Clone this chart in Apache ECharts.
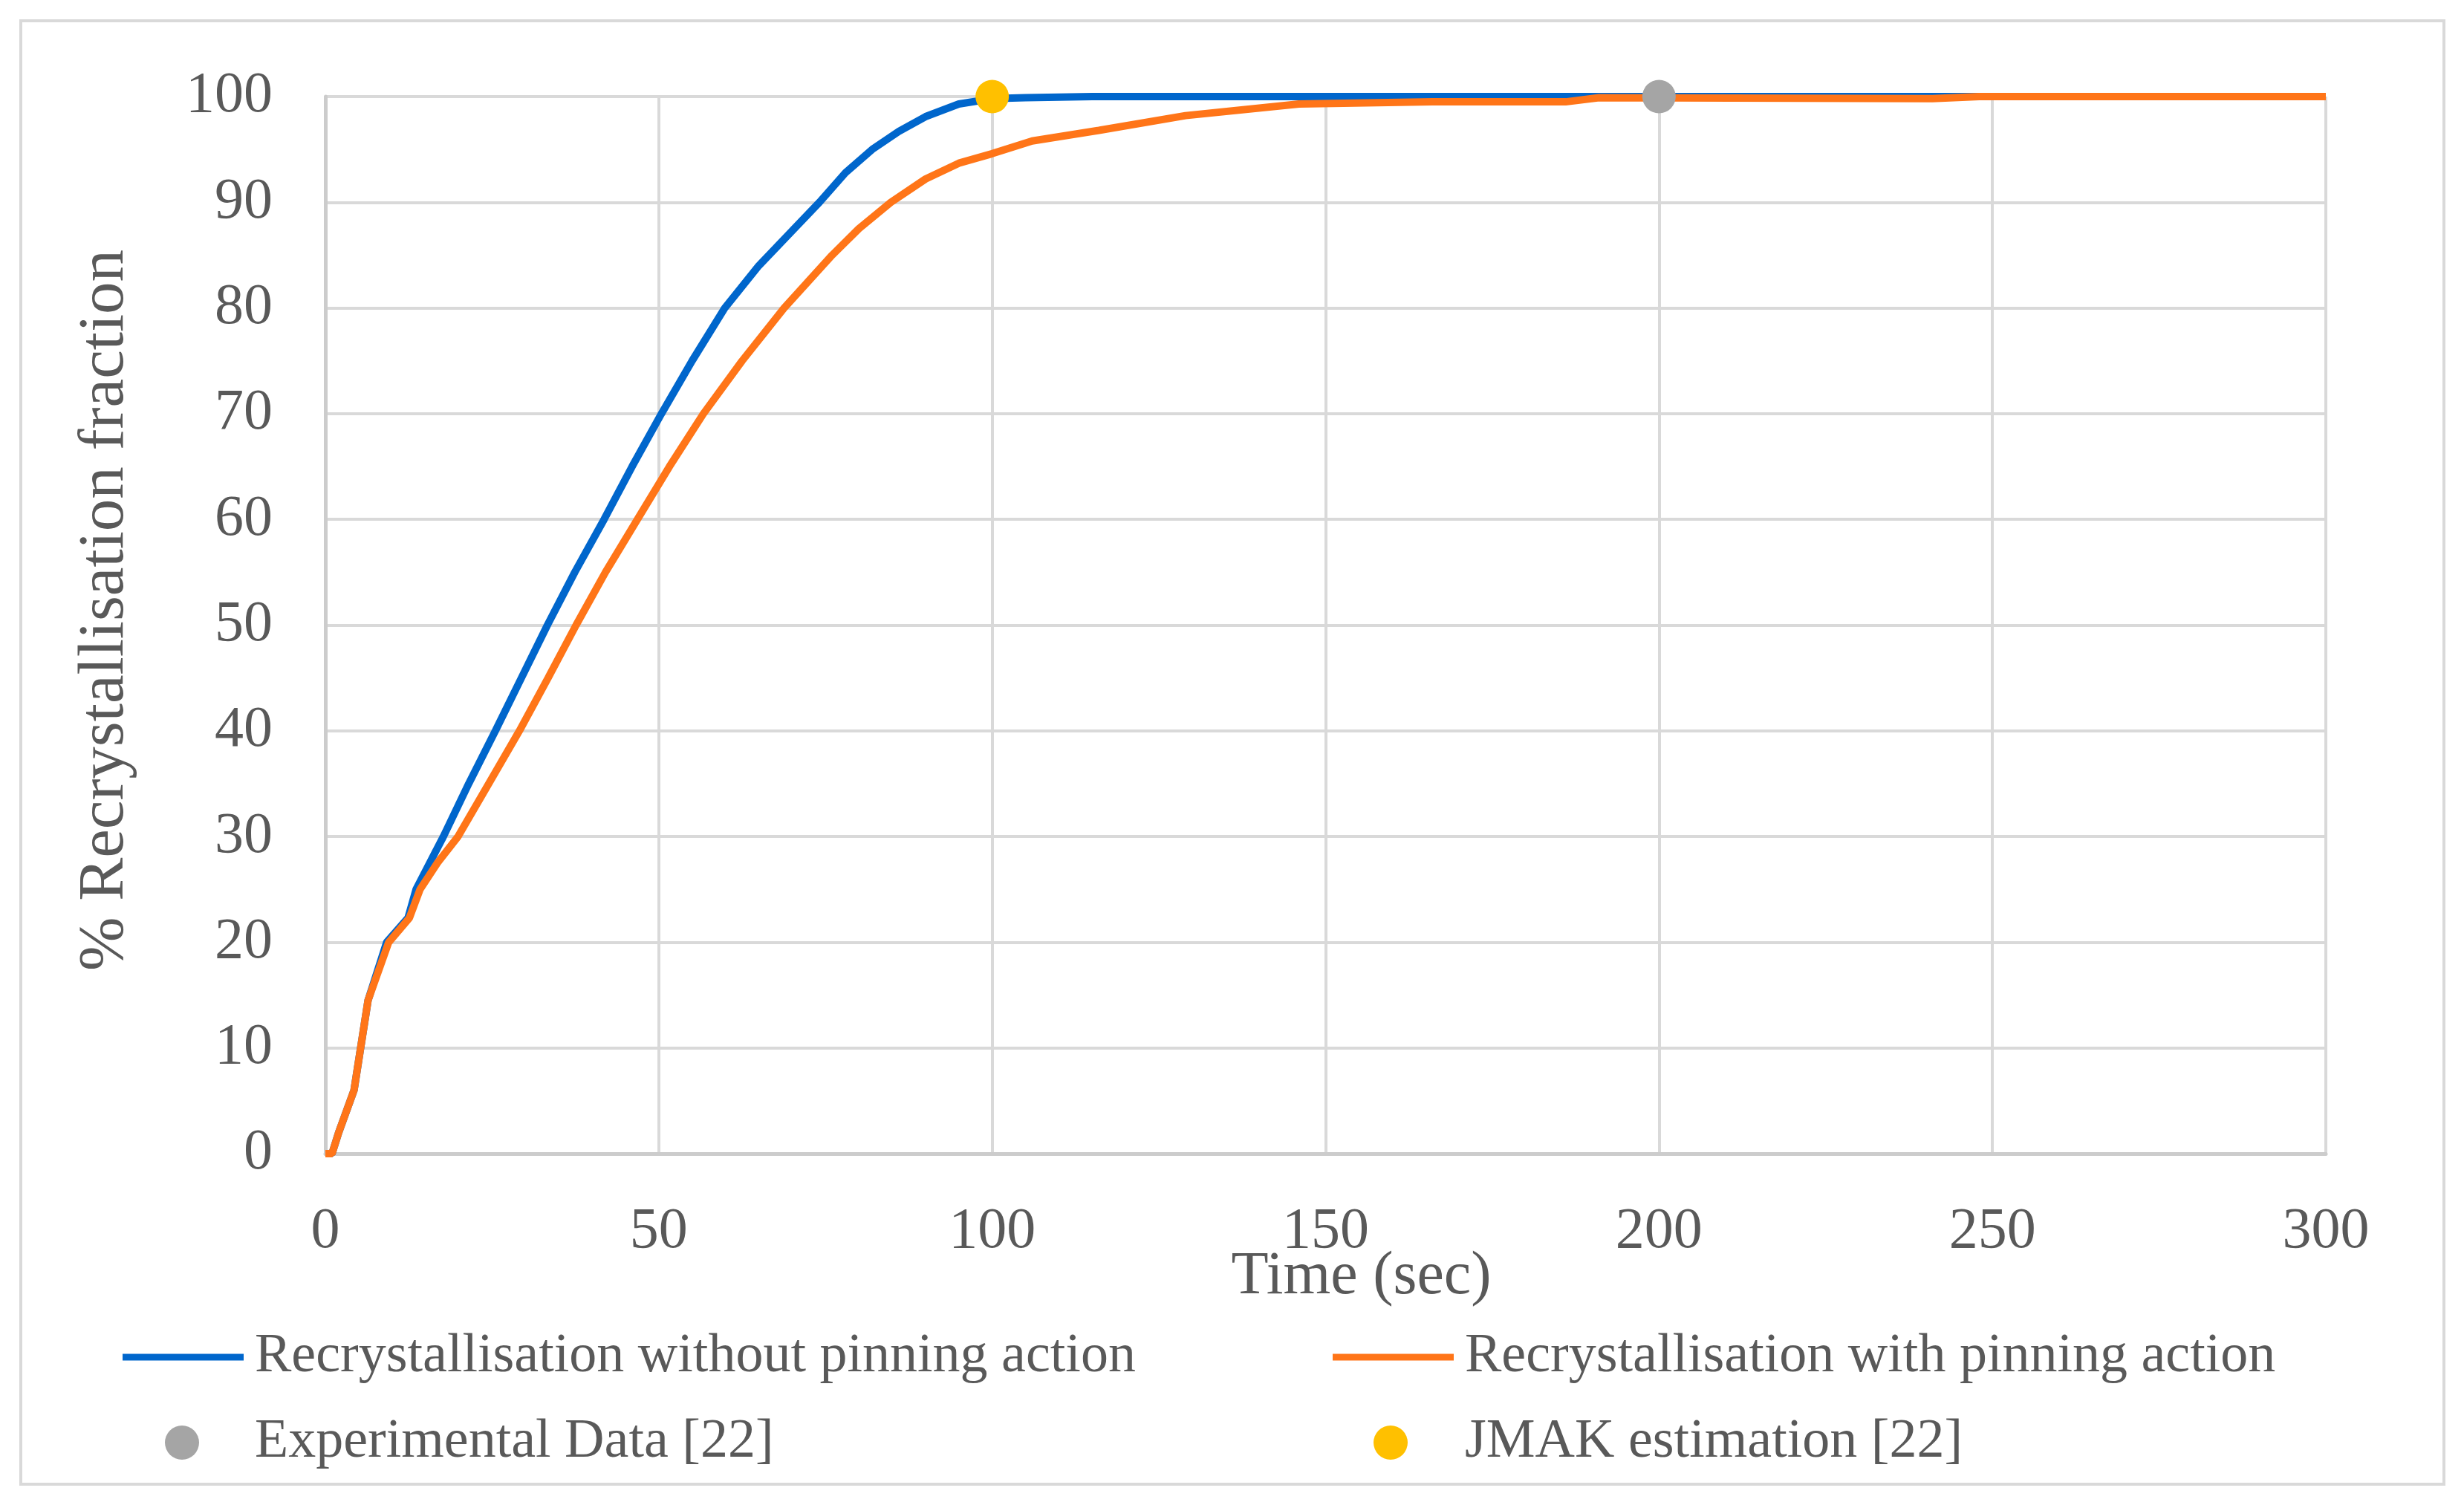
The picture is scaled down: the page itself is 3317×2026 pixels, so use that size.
<!DOCTYPE html>
<html>
<head>
<meta charset="utf-8">
<script src="https://cdn.jsdelivr.net/npm/echarts@6/dist/echarts.min.js"></script>
<style>html,body{margin:0;padding:0;background:#fff}#c{width:3317px;height:2026px}</style>
</head>
<body>
<div id="c"></div>
<script>
const seriesNames = ['Recrystallisation without pinning action','Recrystallisation with pinning action','Experimental Data [22]','JMAK estimation [22]'];
const noPinning = [[0,0],[1,0],[2,2],[4.3,6],[6.4,14.5],[9.2,20],[12.4,22.3],[13.6,25],[17.7,30],[21.5,35],[25.5,40],[29.4,45],[33.3,50],[37.4,55],[41.8,60],[46,65],[50.4,70],[55,75],[59.9,80],[65,84],[70,87.3],[74.1,90],[78,92.8],[82,95],[86,96.7],[90,98.1],[95,99.3],[100,99.8],[105,99.9],[115,100],[150,100],[200,100],[250,100],[300,100]];
const withPinning = [[0,0],[1,0],[2,2],[4.3,6],[6.4,14.5],[9.5,20],[12.6,22.3],[14.2,25],[16.8,27.5],[19.9,30],[24.5,35],[29.1,40],[33.4,45],[37.6,50],[42,55],[46.8,60],[51.6,65],[56.7,70],[62.5,75],[68.8,80],[76,85],[80,87.5],[84.8,90],[90,92.2],[95,93.7],[100,94.6],[106,95.8],[116,96.8],[129,98.2],[146,99.3],[166,99.5],[186,99.5],[191,99.9],[241,99.8],[248,100],[300,100]];
const experimental = [[200,100]];
const jmak = [[100,100]];
const xTicks = {min:0, max:300, interval:50};
const yTicks = {min:0, max:100, interval:10};

const txt = '#595959';
const fam = '"Liberation Serif","Times New Roman",serif';
const chart = echarts.init(document.getElementById('c'));
function leg(name, left, top, w, h, icon, pad){
  return {data:[name], left:left, top:top, orient:'horizontal', itemWidth:w, itemHeight:h, icon:icon,
    selectedMode:false, padding:0,
    textStyle:{color:txt, fontFamily:fam, fontSize:74, padding:[0,0,0,pad]}};
}
chart.setOption({
  backgroundColor:'#fff',
  animation:false,
  graphic:[{type:'rect', shape:{x:28,y:28,width:3262,height:1970}, style:{fill:'none', stroke:'#d9d9d9', lineWidth:4}, silent:true}],
  grid:{left:438, right:186, top:130, bottom:473, containLabel:false},
  legend:[
    leg(seriesNames[0],165,1790,163,9,'rect',10),
    leg(seriesNames[1],1794,1790,163,9,'rect',10),
    leg(seriesNames[2],222,1905,46,46,'circle',70),
    leg(seriesNames[3],1849,1905,46,46,'circle',72)
  ],
  xAxis:{type:'value', min:xTicks.min, max:xTicks.max, interval:xTicks.interval,
    name:'Time (sec)', nameLocation:'middle', nameGap:125, nameMoveOverlap:false,
    nameTextStyle:{color:txt, fontFamily:fam, fontSize:82, padding:[0,0,0,96]},
    axisLine:{show:true, lineStyle:{color:'#cccccc', width:5}},
    axisTick:{show:false},
    axisLabel:{color:txt, fontFamily:fam, fontSize:78, margin:67},
    splitLine:{show:true, lineStyle:{color:'#d9d9d9', width:4}}},
  yAxis:{type:'value', min:yTicks.min, max:yTicks.max, interval:yTicks.interval,
    name:'% Recrystallisation fraction', nameLocation:'middle', nameGap:252, nameRotate:90, nameMoveOverlap:false,
    nameTextStyle:{color:txt, fontFamily:fam, fontSize:87, padding:[0,0,0,40]},
    axisLine:{show:true, lineStyle:{color:'#cccccc', width:5}},
    axisTick:{show:false},
    axisLabel:{color:txt, fontFamily:fam, fontSize:78, margin:71},
    splitLine:{show:true, lineStyle:{color:'#d9d9d9', width:4}}},
  series:[
    {name:seriesNames[0], type:'line', data:noPinning, showSymbol:false, symbol:'none', lineStyle:{color:'#0066CC', width:10}, itemStyle:{color:'#0066CC'}, z:3},
    {name:seriesNames[1], type:'line', data:withPinning, showSymbol:false, symbol:'none', lineStyle:{color:'#FF7518', width:10}, itemStyle:{color:'#FF7518'}, z:4},
    {name:seriesNames[2], type:'scatter', data:experimental, symbolSize:45, itemStyle:{color:'#A5A5A5', opacity:1}, z:6},
    {name:seriesNames[3], type:'scatter', data:jmak, symbolSize:45, itemStyle:{color:'#FFC000', opacity:1}, z:6}
  ]
});
</script>
</body>
</html>
